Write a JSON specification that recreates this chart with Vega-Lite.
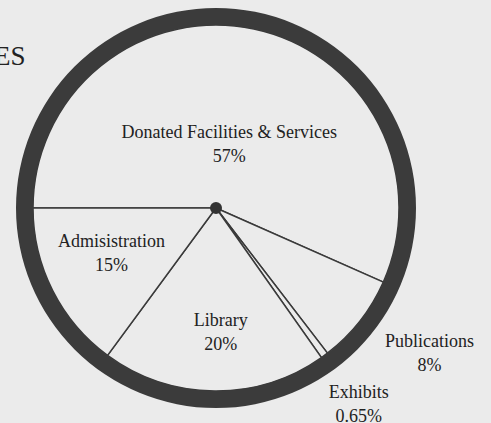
{
  "$schema": "https://vega.github.io/schema/vega-lite/v6.json",
  "width": 432,
  "height": 416,
  "autosize": {"type": "none"},
  "padding": {"left": 0, "top": 0, "right": 59, "bottom": 7},
  "background": "#ebebeb",
  "title": {"text": "ES", "anchor": "start", "frame": "group", "fontSize": 27, "font": "Liberation Serif", "fontWeight": "normal", "color": "#222222", "offset": -92, "dx": -6, "baseline": "alphabetic"},
  "config": {"view": {"stroke": null}, "text": {"font": "Liberation Serif", "fontSize": 18, "lineHeight": 24, "lineBreak": "\n", "color": "#222222", "baseline": "middle", "align": "center"}},
  "data": {"values": [
    {"category": "Donated Facilities & Services", "pct": 57, "ord": 1, "label": "Donated Facilities & Services\n57%"},
    {"category": "Publications", "pct": 8, "ord": 2, "label": "Publications\n8%"},
    {"category": "Exhibits", "pct": 0.65, "ord": 3, "label": "Exhibits\n0.65%"},
    {"category": "Library", "pct": 20, "ord": 4, "label": "Library\n20%"},
    {"category": "Admisistration", "pct": 15, "ord": 5, "label": "Admisistration\n15%"}
  ]},
  "encoding": {
    "theta": {"field": "pct", "type": "quantitative", "stack": true, "scale": {"range": [-1.5707963, 4.712389]}},
    "order": {"field": "ord", "type": "quantitative"}
  },
  "layer": [
    {"mark": {"type": "arc", "outerRadius": 183, "fill": "#ebebeb", "stroke": "#3a3a3a", "strokeWidth": 1.5}},
    {"mark": {"type": "text", "radius": 64, "dy": -12}, "encoding": {"text": {"condition": {"test": "datum.ord == 1", "field": "label"}, "value": ""}}},
    {"mark": {"type": "text", "radius": 180, "dx": 72, "dy": 23}, "encoding": {"text": {"condition": {"test": "datum.ord == 2", "field": "label"}, "value": ""}}},
    {"mark": {"type": "text", "radius": 180, "dx": 36, "dy": 40}, "encoding": {"text": {"condition": {"test": "datum.ord == 3", "field": "label"}, "value": ""}}},
    {"mark": {"type": "text", "radius": 125, "dx": 6, "dy": -12}, "encoding": {"text": {"condition": {"test": "datum.ord == 4", "field": "label"}, "value": ""}}},
    {"mark": {"type": "text", "radius": 117, "dy": -19}, "encoding": {"text": {"condition": {"test": "datum.ord == 5", "field": "label"}, "value": ""}}},
    {"data": {"values": [{"ring": 1}]}, "mark": {"type": "arc", "innerRadius": 183, "outerRadius": 200, "fill": "#3b3b3b"}, "encoding": {"theta": {"value": 0}, "theta2": {"value": 6.2832}, "order": null}},
    {"data": {"values": [{"hub": 1}]}, "mark": {"type": "arc", "innerRadius": 0, "outerRadius": 6, "fill": "#333333"}, "encoding": {"theta": {"value": 0}, "theta2": {"value": 6.2832}, "order": null}}
  ]
}
